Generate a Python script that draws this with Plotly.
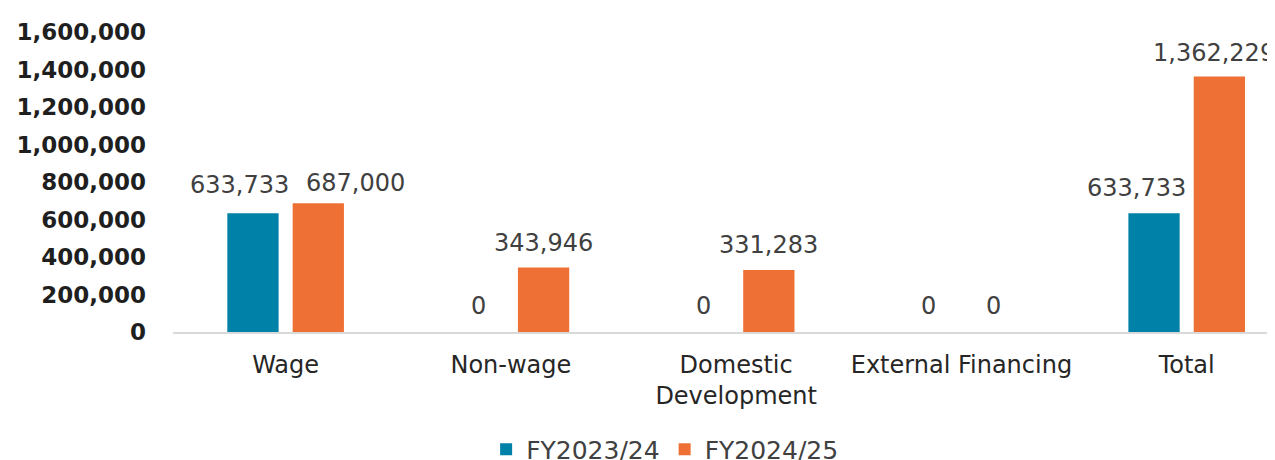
import plotly.graph_objects as go

categories = ["Wage", "Non-wage", "Domestic<br>Development", "External Financing", "Total"]
series_names = ["FY2023/24", "FY2024/25"]
fy2023 = [633733, 0, 0, 0, 633733]
fy2024 = [687000, 343946, 331283, 0, 1362229]
y_ticks = [0, 200000, 400000, 600000, 800000, 1000000, 1200000, 1400000, 1600000]

# label placement nudges (pixels), as in the reference layout
label_dx = [[-14, 0, 0, 0, -18], [37, 0, 0, 0, -5]]
label_dy = [[12, 10, 10, 10, 9], [4, 9, 9, 10, 8]]

colors = ["#0081A7", "#EE7034"]
FONT = "DejaVu Sans"
TXT = "#404040"

fig = go.Figure()
for name, vals, col in zip(series_names, [fy2023, fy2024], colors):
    fig.add_trace(go.Bar(x=categories, y=vals, name=name, marker=dict(color=col, line=dict(width=0))))

# value labels
for s, (vals, shift) in enumerate(zip([fy2023, fy2024], [-32.5, 32.5])):
    for i, (c, v) in enumerate(zip(categories, vals)):
        fig.add_annotation(x=c, y=v, text=f"{v:,}", showarrow=False,
                           xshift=shift + label_dx[s][i],
                           yanchor="bottom", yshift=label_dy[s][i],
                           font=dict(family=FONT, size=24, color=TXT))

fig.update_layout(
    width=1275, height=460,
    margin=dict(l=165, r=8, t=24, b=136, autoexpand=False),
    plot_bgcolor="white", paper_bgcolor="white",
    barmode="group", bargap=0.42, bargroupgap=0.215,
    font=dict(family=FONT, color=TXT),
    showlegend=True,
    legend=dict(orientation="h", xref="container", yref="container", x=0.375, y=0.04,
                xanchor="left", yanchor="middle", font=dict(size=25, color=TXT),
                itemwidth=30, traceorder="normal", tracegroupgap=0),
)
fig.update_xaxes(range=[-0.5, 4.392], showline=True, linecolor="#D9D9D9", linewidth=2,
                 ticks="", tickfont=dict(size=24, color="#262626"), showgrid=False,
                 automargin=False, ticklabelstandoff=10)
fig.update_yaxes(range=[0, 1600000], tickvals=y_ticks,
                 ticktext=[f"<b>{t:,}</b>" for t in y_ticks],
                 tickfont=dict(size=23, color="#1F1F1F"), showgrid=False, zeroline=False,
                 ticklabelstandoff=26, automargin=False)

fig.write_html("out.html")
